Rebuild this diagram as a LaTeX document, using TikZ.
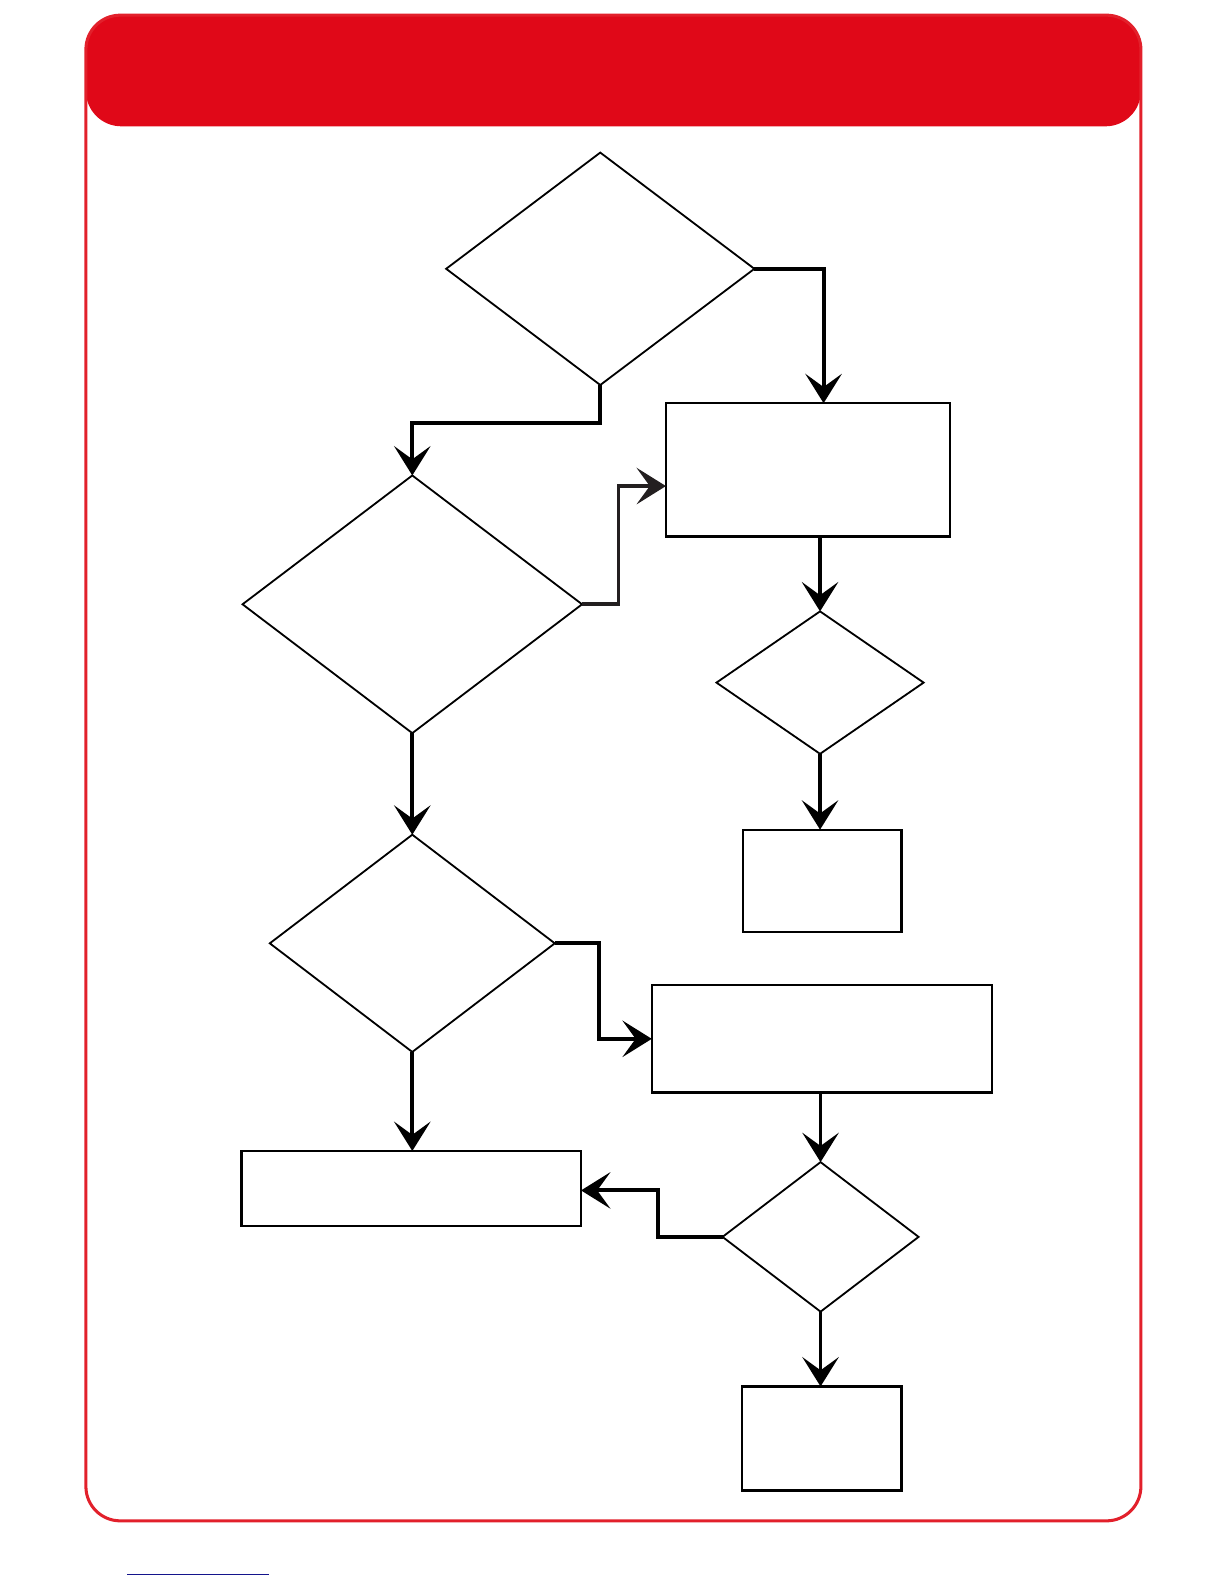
\documentclass[tikz,border=0pt]{standalone}
\usetikzlibrary{shapes.geometric,arrows.meta}
\definecolor{hdrred}{RGB}{224,8,24}
\definecolor{framered}{RGB}{226,32,43}
\definecolor{navyline}{RGB}{20,20,140}
\definecolor{darkarrow}{RGB}{35,31,32}
\tikzset{
  decision/.style={diamond, draw=black, line width=1.8pt, inner sep=0pt, outer sep=0pt},
  procbox/.style={rectangle, draw=black, line width=2.2pt, inner sep=0pt, outer sep=0pt},
  conn/.style={draw=black, line width=3.8pt,
    -{Stealth[length=29pt,width=36pt,inset=13pt]}},
}
\begin{document}
\begin{tikzpicture}[x=1pt,y=-1pt]
\useasboundingbox (0,0) rectangle (1211.3,1567.5);
% header and frame
\fill[hdrred, rounded corners=35pt] (85,15) rectangle (1129,125);
\draw[framered, line width=3pt, rounded corners=34pt] (85,15) rectangle (1129,1505);
% nodes
\node[decision, minimum width=305pt, minimum height=230pt] (D1) at (594,266) {};
\node[procbox, minimum width=281pt, minimum height=132pt] (R1) at (799.5,465) {};
\node[decision, minimum width=336pt, minimum height=255pt] (D2) at (408,598) {};
\node[decision, minimum width=205pt, minimum height=141pt] (D3) at (811.5,675.5) {};
\node[procbox, minimum width=157pt, minimum height=101pt] (R2) at (813.5,871.5) {};
\node[decision, minimum width=282pt, minimum height=215pt] (D4) at (408,933.5) {};
\node[procbox, minimum width=337pt, minimum height=106pt] (R3) at (813.5,1028) {};
\node[procbox, minimum width=336pt, minimum height=74pt] (R4) at (407,1176) {};
\node[decision, minimum width=194pt, minimum height=148pt] (D5) at (812,1224) {};
\node[procbox, minimum width=158pt, minimum height=103pt] (R5) at (813,1423.5) {};
% connectors
\draw[conn] (D1.east) -| ([xshift=15.5pt]R1.north);
\draw[conn] (D1.south) -- ++(0,38) -| (D2.north);
\draw[conn, draw=darkarrow] (D2.east) -- ++(36,0) |- ([yshift=-16pt]R1.west);
\draw[conn] (D3.north |- R1.south) -- (D3.north);
\draw[conn] (D3.south) -- (D3.south |- R2.north);
\draw[conn] (D2.south) -- (D4.north);
\draw[conn] (D4.east) -- ++(44,0) |- (R3.west);
\draw[conn] (D4.south) -- (D4.south |- R4.north);
\draw[conn] (D5.north |- R3.south) -- (D5.north);
\draw[conn] (D5.west) -- ++(-64,0) |- ([yshift=-2pt]R4.east);
\draw[conn] (D5.south) -- (D5.south |- R5.north);
% bottom line
\draw[navyline, line width=1.3pt] (126,1558) -- (266,1558);
\end{tikzpicture}
\end{document}
